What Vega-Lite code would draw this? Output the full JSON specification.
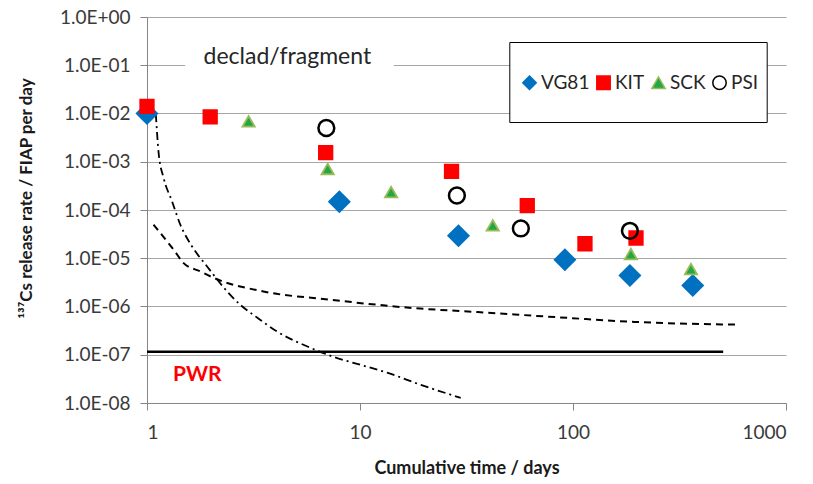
{
  "$schema": "https://vega.github.io/schema/vega-lite/v6.json",
  "width": 639,
  "height": 386,
  "autosize": "none",
  "padding": {"left": 147, "top": 17, "right": 27, "bottom": 81},
  "config": {
    "view": {"stroke": null},
    "font": "Lato",
    "axis": {"labelFont": "Lato", "titleFont": "Lato", "labelColor": "#3a3a3a", "titleColor": "#1a1a1a"}
  },
  "datasets": {
    "points": [
      {"series": "VG81", "days": 1, "rate": 0.01},
      {"series": "VG81", "days": 8, "rate": 0.000149},
      {"series": "VG81", "days": 29, "rate": 0.0000293},
      {"series": "VG81", "days": 91.6, "rate": 0.0000093},
      {"series": "VG81", "days": 185, "rate": 0.0000044},
      {"series": "VG81", "days": 365, "rate": 0.00000273},
      {"series": "KIT", "days": 1, "rate": 0.0141},
      {"series": "KIT", "days": 1.98, "rate": 0.0085},
      {"series": "KIT", "days": 6.9, "rate": 0.00155},
      {"series": "KIT", "days": 26.9, "rate": 0.00063},
      {"series": "KIT", "days": 61, "rate": 0.000123},
      {"series": "KIT", "days": 113.8, "rate": 0.00002},
      {"series": "KIT", "days": 197.6, "rate": 0.0000263},
      {"series": "SCK", "days": 3, "rate": 0.0069},
      {"series": "SCK", "days": 7.05, "rate": 0.00071},
      {"series": "SCK", "days": 14, "rate": 0.000236},
      {"series": "SCK", "days": 42, "rate": 0.000048},
      {"series": "SCK", "days": 187, "rate": 0.0000122},
      {"series": "SCK", "days": 358, "rate": 0.00000597},
      {"series": "PSI", "days": 6.95, "rate": 0.005},
      {"series": "PSI", "days": 28.5, "rate": 0.0002},
      {"series": "PSI", "days": 56.9, "rate": 0.0000415},
      {"series": "PSI", "days": 185, "rate": 0.000037}
    ],
    "curves": [
      {"curve": "solid", "days": 1, "rate": 1.15e-7},
      {"curve": "solid", "days": 507, "rate": 1.15e-7},
      {"curve": "dash", "days": 1.074, "rate": 0.0000495},
      {"curve": "dash", "days": 1.334, "rate": 0.000015},
      {"curve": "dash", "days": 1.486, "rate": 0.00000794},
      {"curve": "dash", "days": 1.781, "rate": 0.00000532},
      {"curve": "dash", "days": 2.05, "rate": 0.00000394},
      {"curve": "dash", "days": 3.52, "rate": 0.00000205},
      {"curve": "dash", "days": 7.27, "rate": 0.00000138},
      {"curve": "dash", "days": 17.9, "rate": 9.27e-7},
      {"curve": "dash", "days": 35.7, "rate": 7.65e-7},
      {"curve": "dash", "days": 94.6, "rate": 5.8e-7},
      {"curve": "dash", "days": 193, "rate": 4.8e-7},
      {"curve": "dash", "days": 603, "rate": 4.2e-7},
      {"curve": "dashdot", "days": 1.1, "rate": 0.0098},
      {"curve": "dashdot", "days": 1.134, "rate": 0.00152},
      {"curve": "dashdot", "days": 1.197, "rate": 0.000461},
      {"curve": "dashdot", "days": 1.311, "rate": 0.000151},
      {"curve": "dashdot", "days": 1.434, "rate": 0.0000495},
      {"curve": "dashdot", "days": 1.627, "rate": 0.0000176},
      {"curve": "dashdot", "days": 1.915, "rate": 0.00000676},
      {"curve": "dashdot", "days": 2.385, "rate": 0.00000202},
      {"curve": "dashdot", "days": 2.745, "rate": 0.00000108},
      {"curve": "dashdot", "days": 3.3, "rate": 5.83e-7},
      {"curve": "dashdot", "days": 4.1, "rate": 2.99e-7},
      {"curve": "dashdot", "days": 5.86, "rate": 1.39e-7},
      {"curve": "dashdot", "days": 7.51, "rate": 9.04e-8},
      {"curve": "dashdot", "days": 10.07, "rate": 6.17e-8},
      {"curve": "dashdot", "days": 13.5, "rate": 4.21e-8},
      {"curve": "dashdot", "days": 19.3, "rate": 2.38e-8},
      {"curve": "dashdot", "days": 29.7, "rate": 1.28e-8}
    ]
  },
  "layer": [
    {
      "data": {"values": [{"x1": 1.51, "x2": 14.4, "y1": 0.244, "y2": 0.0894}]},
      "mark": {"type": "rect", "fill": "white"},
      "encoding": {
        "x": {"field": "x1", "type": "quantitative", "scale": {"type": "log", "domain": [1, 1000], "nice": false},
          "axis": {"title": "Cumulative time / days", "values": [1, 10, 100, 1000], "format": "d", "grid": false,
            "domainColor": "#868686", "tickColor": "#868686", "tickSize": 7, "labelFontSize": 19, "labelPadding": 13,
            "titleFontSize": 18, "titleFontWeight": "bold", "titlePadding": 17}},
        "x2": {"field": "x2"},
        "y": {"field": "y1", "type": "quantitative", "scale": {"type": "log", "domain": [1e-8, 1], "nice": false},
          "axis": {"title": "¹³⁷Cs release rate / FIAP per day", "values": [1e-8, 1e-7, 1e-6, 1e-5, 1e-4, 1e-3, 1e-2, 1e-1, 1],
            "labelExpr": "datum.value >= 1 ? '1.0E+00' : '1.0E-0' + round(-log(datum.value)/LN10)",
            "grid": true, "gridColor": "#a6a6a6", "gridWidth": 1, "domainColor": "#868686", "tickColor": "#868686", "tickSize": 7,
            "labelFontSize": 19, "labelPadding": 10, "titleFontSize": 17, "titleFontWeight": "bold",
            "titleX": -121, "titleY": 181, "titleAlign": "center", "titleBaseline": "middle", "titleAngle": -90}},
        "y2": {"field": "y2"}
      }
    },
    {
      "data": {"values": [{"x1": 50.5, "x2": 816, "y1": 0.296, "y2": 0.0065}]},
      "mark": {"type": "rect", "fill": "white", "stroke": "black", "strokeWidth": 1},
      "encoding": {
        "x": {"field": "x1", "type": "quantitative"},
        "x2": {"field": "x2"},
        "y": {"field": "y1", "type": "quantitative"},
        "y2": {"field": "y2"}
      }
    },
    {
      "mark": {"type": "rule", "color": "black", "strokeWidth": 1.2},
      "encoding": {"x": {"datum": 1000}}
    },
    {
      "data": {"name": "curves"},
      "mark": {"type": "line", "color": "black", "interpolate": "monotone"},
      "encoding": {
        "x": {"field": "days", "type": "quantitative"},
        "y": {"field": "rate", "type": "quantitative"},
        "detail": {"field": "curve"},
        "strokeDash": {"field": "curve", "type": "nominal", "legend": null,
          "scale": {"domain": ["solid", "dash", "dashdot"], "range": [[1, 0], [7, 5], [8, 4, 2, 4]]}},
        "strokeWidth": {"field": "curve", "type": "nominal", "legend": null,
          "scale": {"type": "ordinal", "domain": ["solid", "dash", "dashdot"], "range": [2.5, 2, 1.8]}}
      }
    },
    {
      "data": {"name": "points"},
      "mark": {"type": "point", "filled": false, "opacity": 1},
      "encoding": {
        "x": {"field": "days", "type": "quantitative"},
        "y": {"field": "rate", "type": "quantitative"},
        "shape": {"field": "series", "type": "nominal", "title": null,
          "scale": {"domain": ["VG81", "KIT", "SCK", "PSI"], "range": ["diamond", "square", "triangle-up", "circle"]},
          "legend": {"orient": "none", "legendX": 373, "legendY": 56, "direction": "horizontal", "columns": 4,
            "labelFont": "Lato", "labelFontSize": 19, "labelColor": "#262626", "symbolSize": 180,
            "labelOffset": 2, "columnPadding": 3,
            "encode": {"symbols": {"update": {
              "size": {"signal": "datum.value === 'VG81' ? 225 : datum.value === 'KIT' ? 144 : datum.value === 'SCK' ? 140 : 196"},
              "strokeWidth": {"signal": "datum.value === 'PSI' ? 3 : datum.value === 'SCK' ? 1.2 : 0"}}}}}},
        "fill": {"field": "series", "type": "nominal", "title": null,
          "scale": {"domain": ["VG81", "KIT", "SCK", "PSI"], "range": ["#0070C0", "#FF0000", "#1FA845", "transparent"]}},
        "stroke": {"field": "series", "type": "nominal", "title": null,
          "scale": {"domain": ["VG81", "KIT", "SCK", "PSI"], "range": ["#0070C0", "#FF0000", "#9BBB59", "#000000"]}},
        "strokeWidth": {"field": "series", "type": "nominal", "title": null,
          "scale": {"type": "ordinal", "domain": ["VG81", "KIT", "SCK", "PSI"], "range": [0, 0, 1.5, 3]}},
        "size": {"field": "series", "type": "nominal", "legend": null,
          "scale": {"type": "ordinal", "domain": ["PSI", "SCK", "KIT", "VG81"], "range": [250, 150, 177, 380]}}
      }
    },
    {
      "data": {"values": [{"label": "declad/fragment", "days": 4.56, "rate": 0.15}]},
      "mark": {"type": "text", "fontSize": 23, "font": "Lato", "color": "#262626", "baseline": "middle", "align": "center"},
      "encoding": {
        "x": {"field": "days", "type": "quantitative"},
        "y": {"field": "rate", "type": "quantitative"},
        "text": {"field": "label"}
      }
    },
    {
      "data": {"values": [{"label": "PWR", "days": 1.72, "rate": 3.74e-8}]},
      "mark": {"type": "text", "fontSize": 21, "font": "Lato", "fontWeight": "bold", "color": "#FF0000", "baseline": "middle", "align": "center"},
      "encoding": {
        "x": {"field": "days", "type": "quantitative"},
        "y": {"field": "rate", "type": "quantitative"},
        "text": {"field": "label"}
      }
    }
  ]
}
